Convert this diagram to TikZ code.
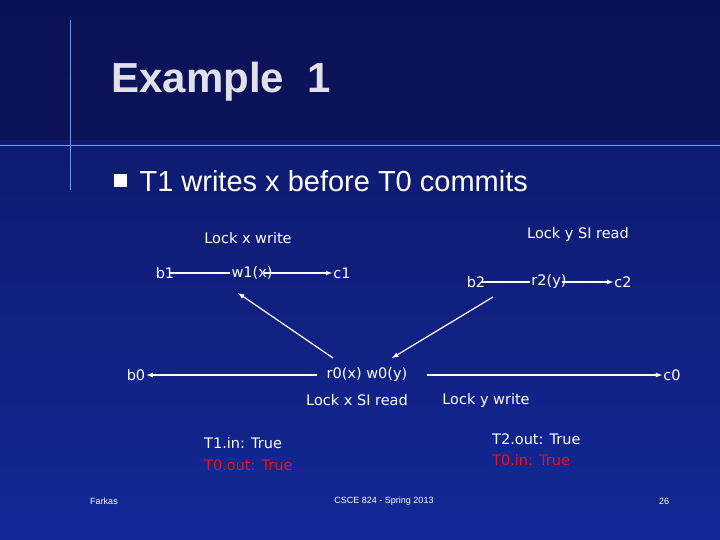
\documentclass[tikz,border=0pt]{standalone}
\usepackage{fontspec}
\setmainfont{Liberation Sans}
\newfontfamily\dv{DejaVu Sans}
\definecolor{bgtop}{RGB}{14,22,100}
\definecolor{bgbot}{RGB}{18,40,150}
\definecolor{bgdark}{RGB}{10,15,75}
\definecolor{flare}{RGB}{120,150,230}
\definecolor{ttl}{RGB}{225,225,235}
\definecolor{rtxt}{RGB}{235,20,20}
\begin{document}
\begin{tikzpicture}[x=1pt,y=-1pt,
  lbl/.style={text=white,font=\dv\fontsize{14.5}{17}\selectfont,inner sep=1pt},
  red/.style={text=rtxt},
  ar/.style={draw=white,line width=1.2pt,-latex},
  ln/.style={draw=white,line width=1.2pt}]
\useasboundingbox (0,0) rectangle (720,540);
\shade[top color=bgtop,bottom color=bgbot] (0,0) rectangle (720,540);
\fill[bgdark,opacity=0.6] (0,0) rectangle (720,140);
\draw[flare,line width=1pt] (70,20) -- (70,190);
\draw[flare,line width=1pt] (0,146) -- (720,146);
\node[anchor=west,text=ttl,font=\bfseries\fontsize{42}{46}\selectfont] (t) at (108,82) {Example\ \ 1};
\fill[white] (114,174) rectangle (127,187);
\node[anchor=west,text=white,font=\fontsize{29}{32}\selectfont] (s) at (136,181) {T1 writes x before T0 commits};
\node[lbl] (lx) at (248,238) {Lock x write};
\node[lbl] (ly) at (578,235) {Lock y SI read};
\node[lbl] (b1) at (165,273) {b1};
\node[lbl] (w1) at (252,273) {w1(x)};
\node[lbl] (c1) at (342,273) {c1};
\node[lbl] (b2) at (476,282) {b2};
\node[lbl] (r2) at (549,282) {r2(y)};
\node[lbl] (c2) at (623,282) {c2};
\node[lbl] (b0) at (136,375) {b0};
\node[lbl] (r0) at (367,375) {r0(x) w0(y)};
\node[lbl] (c0) at (672,375) {c0};
\node[lbl] (lxs) at (357,400) {Lock x SI read};
\node[lbl] (lyw) at (486,400) {Lock y write};
\node[lbl,anchor=west] (t1) at (203,443) {T1.in: True};
\node[lbl,anchor=west,red] (t0) at (203,465) {T0.out: True};
\node[lbl,anchor=west] (t2) at (491,439) {T2.out: True};
\node[lbl,anchor=west,red] (t0b) at (491,460) {T0.in: True};
\node[text=white,font=\fontsize{9}{10}\selectfont] (f) at (104,501) {Farkas};
\node[text=white,font=\fontsize{9}{10}\selectfont] (cs) at (384,501) {CSCE 824 - Spring 2013};
\node[text=white,font=\fontsize{9}{10}\selectfont] (pg) at (664,501) {26};
\draw[ln] ([xshift=-6pt]b1.east) -- (w1.west);
\draw[ar] ([xshift=-10pt]w1.east) -- (c1.west);
\draw[ln] ([xshift=-4pt]b2.east) -- (r2.west);
\draw[ar] ([xshift=-6pt]r2.east) -- (c2.west);
\draw[ar] ([xshift=-8pt]r0.west) -- (b0.east);
\draw[ar] ([xshift=18pt]r0.east) -- (c0.west);
\draw[ar] (333,358) -- (238,293);
\draw[ar] (493,297) -- (392,358);
\end{tikzpicture}
\end{document}
